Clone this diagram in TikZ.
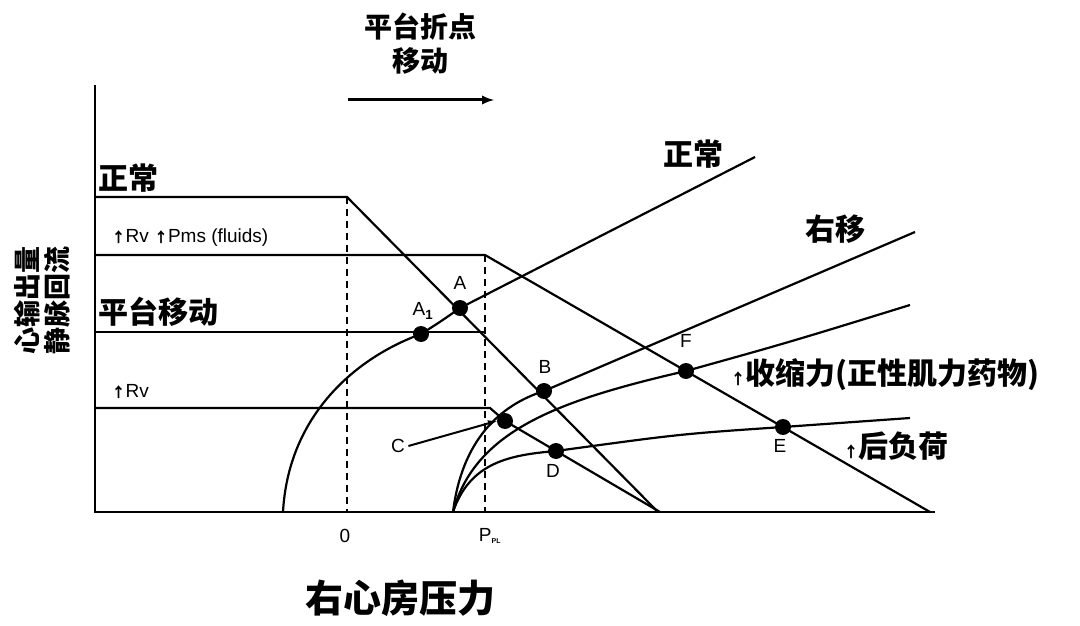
\documentclass[tikz,border=0pt]{standalone}
\usepackage{fontspec}
\setmainfont{Liberation Sans}
\newfontfamily\cjk{Noto Sans CJK SC}
\begin{document}
\begin{tikzpicture}[x=1pt,y=-1pt,
  ln/.style={line width=2.2pt,black},
  dot/.style={circle,fill=black,inner sep=0pt,minimum size=16pt},
  pl/.style={font=\fontsize{19}{19}\selectfont},
  cl/.style={font=\cjk\bfseries\fontsize{30}{32}\selectfont},
  ll/.style={font=\fontsize{19}{19}\selectfont}]
\useasboundingbox (0,0) rectangle (1080,626);
% axes
\coordinate (yt) at (95,85); \coordinate (o) at (95,512); \coordinate (xe) at (935,512);
\draw[ln] (yt) -- (o) -- (xe);
% dashed
\coordinate (d0t) at (347,197); \coordinate (d0b) at (347,512);
\coordinate (d1t) at (485,255); \coordinate (d1b) at (485,512);
\draw[line width=1.8pt,dash pattern=on 7pt off 5pt] (d0t) -- (d0b);
\draw[line width=1.8pt,dash pattern=on 7pt off 5pt] (d1t) -- (d1b);
% venous return
\draw[ln] (95,197) -- (347,197) -- (658,512);
\draw[ln] (95,255) -- (485,255) -- (930,512);
\draw[ln] (95,332) -- (485,332);
\draw[ln] (95,408) -- (490,408) -- (505,421) -- (660,512);
% cardiac function curves
\draw[ln] (283,512) .. controls (288,420) and (350,360) .. (421,334) .. controls (440,322) .. (460,308) -- (755,157);
\draw[ln] (453,512) .. controls (462,440) and (500,405) .. (544,391) -- (915,232);
\draw[ln] (453,512) .. controls (475,430) and (560,400) .. (686,371) .. controls (790,342) .. (910,305);
\draw[ln] (453,512) .. controls (470,462) and (510,455) .. (556,451) .. controls (680,434) .. (783,427) -- (910,418);
% points
\node[dot] (A1) at (421,334) {}; \node[ll] (lA1) at (423,311) {A\textsubscript{\bfseries 1}};
\node[dot] (A) at (460,308) {}; \node[ll] (lA) at (460,283) {A};
\node[dot] (B) at (544,391) {}; \node[ll] (lB) at (545,367) {B};
\node[dot] (Cp) at (505,421) {}; \node[ll] (lC) at (398,446) {C};
\node[dot] (D) at (556,451) {}; \node[ll] (lD) at (553,471) {D};
\node[dot] (E) at (783,427) {}; \node[ll] (lE) at (780,446) {E};
\node[dot] (F) at (686,371) {}; \node[ll] (lF) at (686,341) {F};
\draw[line width=2pt,-latex] (lC.east) -- (Cp.west);
% axis labels
\node[pl] (n0) at (345,536) {0};
\node[pl] (npl) at (490,536) {P\textsubscript{\bfseries\scriptsize PL}};
\node[cl,font=\cjk\bfseries\fontsize{28}{34}\selectfont,align=center] (top) at (420,44) {平台折点\\移动};
\coordinate (a0) at (348,100); \coordinate (a1) at (494,100);
\draw[line width=3pt,-latex] (a0) -- (a1);
\node[cl,rotate=90,align=center,font=\cjk\bfseries\fontsize{27}{30}\selectfont] (yl) at (42,300) {心输出量\\静脉回流};
\node[cl,font=\cjk\bfseries\fontsize{38}{38}\selectfont] (xl) at (400,598) {右心房压力};
% curve labels
\node[cl,anchor=west] (t1) at (95,178) {正常};
\node[pl,anchor=west] (t2) at (108,238) {{\cjk\bfseries\fontsize{14}{14}\selectfont ↑}Rv {\cjk\bfseries\fontsize{14}{14}\selectfont ↑}Pms (fluids)};
\node[cl,anchor=west] (t3) at (95,312) {平台移动};
\node[pl,anchor=west] (t4) at (108,392) {{\cjk\bfseries\fontsize{14}{14}\selectfont ↑}Rv};
\node[cl] (t5) at (693,154) {正常};
\node[cl] (t6) at (835,229) {右移};
\node[cl,anchor=west] (t7) at (727,375) {\fontsize{15}{15}\selectfont↑\fontsize{30}{32}\selectfont 收缩力(正性肌力药物)};
\node[cl,anchor=west] (t8) at (840,446) {\fontsize{15}{15}\selectfont↑\fontsize{30}{32}\selectfont 后负荷};
\end{tikzpicture}
\end{document}
